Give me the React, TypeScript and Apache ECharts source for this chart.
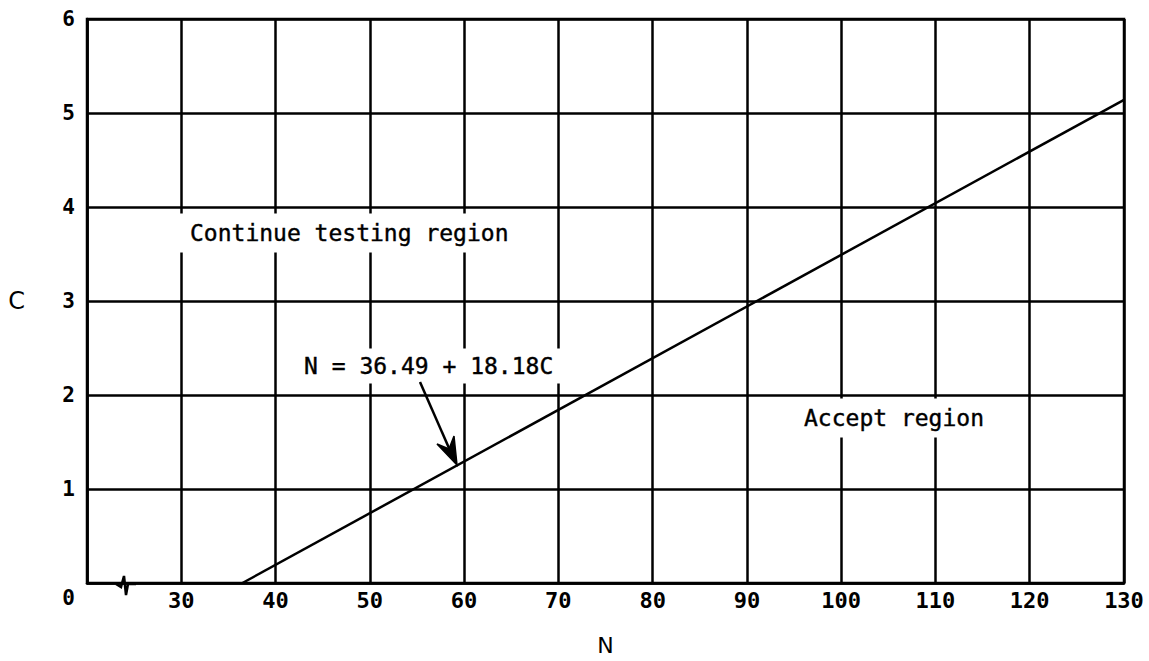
import React, { useEffect, useRef } from "react";
import * as echarts from "echarts";

const xTicks = [20, 30, 40, 50, 60, 70, 80, 90, 100, 110, 120, 130];
const yTicks = [0, 1, 2, 3, 4, 5, 6];
const lineN = [36.49, 130];
const lineC = [0, 5.14];
const equationLabel = "N = 36.49 + 18.18C";
const continueLabel = "Continue testing region";
const acceptLabel = "Accept region";

const FONT = "DejaVu Sans Mono";

export default function App() {
  const ref = useRef<HTMLDivElement>(null);
  useEffect(() => {
    if (!ref.current) return;
    const chart = echarts.init(ref.current, null, { renderer: "svg" });
    const textBox = (text: string, x: number, y: number, pad: number[]) => ({
      type: "text",
      x,
      y,
      z: 100,
      style: {
        text,
        font: `23px "${FONT}"`,
        fill: "#000",
        textAlign: "left",
        textVerticalAlign: "middle",
        backgroundColor: "#fff",
        padding: pad,
        stroke: "#000",
        lineWidth: 0.4,
      },
    });
    const lab = { fontFamily: FONT, fontSize: 22, fontWeight: "bold" as const, color: "#000" };
    const nameStyle = { fontFamily: "DejaVu Sans", fontSize: 22, color: "#000" };
    chart.setOption({
      animation: false,
      backgroundColor: "#fff",
      grid: {
        left: 87,
        right: 25,
        top: 19,
        bottom: 78,
        show: true,
        borderColor: "#000",
        borderWidth: 2.5,
        containLabel: false,
        outerBoundsMode: "none",
      },
      xAxis: {
        type: "value",
        min: xTicks[0],
        max: xTicks[xTicks.length - 1],
        interval: 10,
        name: "N",
        nameLocation: "middle",
        nameGap: 51,
        nameTextStyle: nameStyle,
        axisLine: { show: true, lineStyle: { color: "#000", width: 2.5 } },
        axisTick: { show: false },
        splitLine: { show: true, lineStyle: { color: "#000", width: 2.5 } },
        axisLabel: {
          margin: 6,
          ...lab,
          formatter: (v: number) => (v === xTicks[0] ? "" : String(v)),
        },
      },
      yAxis: {
        type: "value",
        min: yTicks[0],
        max: yTicks[yTicks.length - 1],
        interval: 1,
        name: "C",
        nameLocation: "middle",
        nameRotate: 0,
        nameGap: 62,
        nameTextStyle: { ...nameStyle, fontSize: 24 },
        axisLine: { show: true, lineStyle: { color: "#000", width: 2.5 } },
        axisTick: { show: false },
        splitLine: { show: true, lineStyle: { color: "#000", width: 2.5 } },
        axisLabel: {
          margin: 12,
          ...lab,
          fontSize: 21,
          formatter: (v: number) => (v === 0 ? "{z|0}" : String(v)),
          rich: {
            z: { ...lab, fontSize: 21, padding: [30, 0, 0, 0] },
          },
        },
      },
      series: [
        {
          type: "line",
          data: lineN.map((n, i) => [n, lineC[i]]),
          symbol: "none",
          lineStyle: { color: "#000", width: 2.5 },
          z: 5,
        },
      ],
      graphic: [
        textBox(continueLabel, 176, 233, [8, 14, 8, 14]),
        textBox(acceptLabel, 792, 418, [8, 12, 8, 12]),
        textBox(equationLabel, 296, 366, [6, 8, 6, 8]),
        {
          type: "line",
          z: 110,
          shape: { x1: 420, y1: 382, x2: 452, y2: 455 },
          style: { stroke: "#000", lineWidth: 2.5 },
        },
        {
          type: "polygon",
          z: 110,
          shape: {
            points: [
              [457, 465],
              [437, 444],
              [449, 449],
              [454, 436],
            ],
          },
          style: { fill: "#000", stroke: "#000", lineWidth: 1.5 },
        },
        {
          type: "polyline",
          z: 110,
          shape: {
            points: [
              [116, 584],
              [121, 587],
              [124, 576],
              [126, 595],
              [128, 584],
              [136, 584],
            ],
          },
          style: { stroke: "#000", lineWidth: 2.5, fill: null },
        },
      ],
    });
    return () => chart.dispose();
  }, []);
  return (
    <div
      ref={ref}
      style={{ position: "fixed", left: 0, top: 0, width: 1149, height: 661, background: "#fff" }}
    />
  );
}
